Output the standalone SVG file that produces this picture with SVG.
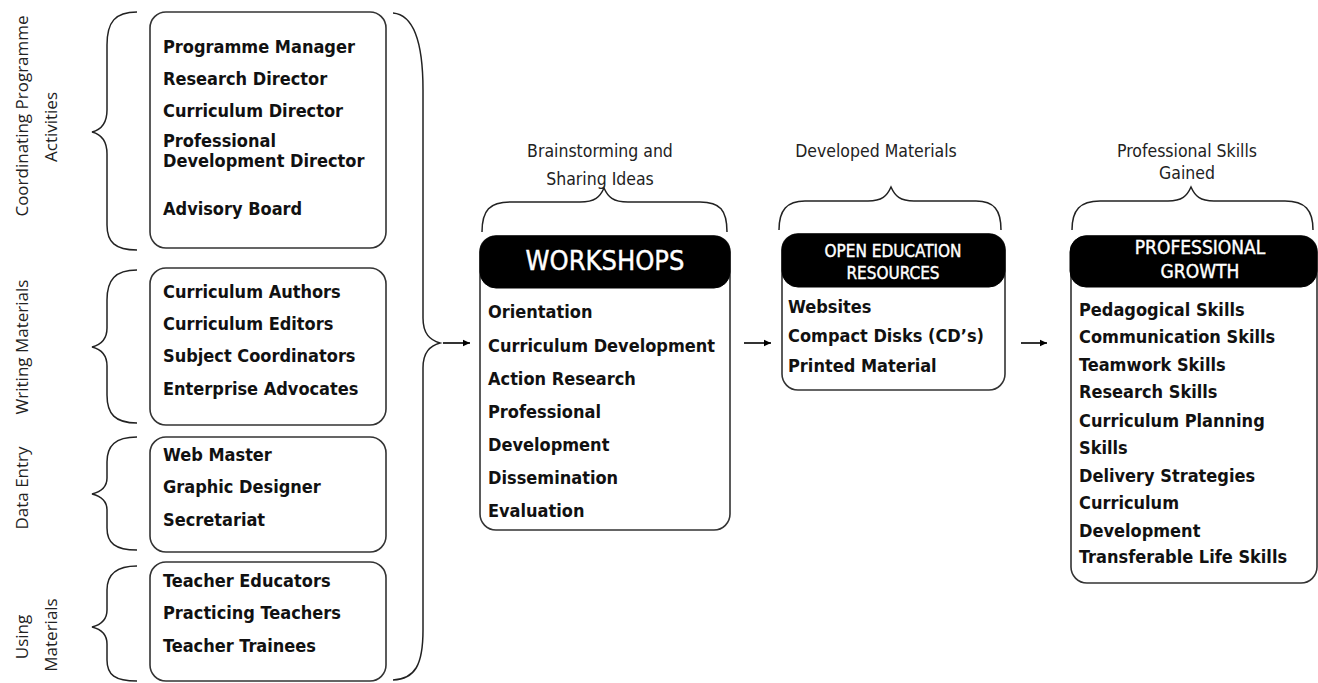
<svg xmlns="http://www.w3.org/2000/svg" width="1318" height="683" viewBox="0 0 1318 683">
<defs>
<style>
.box{fill:#fff;stroke:#333;stroke-width:1.6}
.hdr{fill:#000;stroke:#000;stroke-width:1}
.br{fill:none;stroke:#222;stroke-width:1.5}
.ln{fill:none;stroke:#000;stroke-width:1.6}
.lbl{font-family:"Open Sans","DejaVu Sans",sans-serif;font-size:17px;fill:#222;text-anchor:middle}
.cap{font-family:"DejaVu Sans Condensed","DejaVu Sans",sans-serif;font-size:17.5px;fill:#222;text-anchor:middle}
.it{font-family:"DejaVu Sans Condensed","DejaVu Sans",sans-serif;font-weight:bold;font-size:18px;fill:#111}
.ht{font-family:"DejaVu Sans Condensed","DejaVu Sans",sans-serif;fill:#fff;stroke:#fff;stroke-width:0.4;text-anchor:middle}
</style>
<marker id="ah" markerWidth="8" markerHeight="8" refX="7" refY="4" orient="auto" markerUnits="userSpaceOnUse">
<path d="M0,0.8 L7,4 L0,7.2 Z" fill="#000"/>
</marker>
</defs>
<rect width="1318" height="683" fill="#fff"/>

<g id="labels">
<text class="lbl" transform="translate(28,116) rotate(-90)">Coordinating Programme</text>
<text class="lbl" transform="translate(57,127) rotate(-90)">Activities</text>
<text class="lbl" transform="translate(28,347) rotate(-90)">Writing Materials</text>
<text class="lbl" transform="translate(28,488) rotate(-90)">Data Entry</text>
<text class="lbl" transform="translate(28,637) rotate(-90)">Using</text>
<text class="lbl" transform="translate(57,635) rotate(-90)">Materials</text>
</g>

<g id="connectors">
<path class="br" d="M137,12 C115,12 107,22 107,45 L107,110 C107,124 100,130 92,132 C100,134 107,140 107,154 L107,225 C107,242 115,250 137,250"/>
<path class="br" d="M137,270 C115,270 107,280 107,300 L107,328 C107,340 100,345 92,347 C100,349 107,354 107,366 L107,395 C107,414 115,423 137,423"/>
<path class="br" d="M137,437 C115,437 107,446 107,462 L107,478 C107,488 100,492 92,494 C100,496 107,500 107,510 L107,528 C107,543 115,550 137,550"/>
<path class="br" d="M137,566 C115,566 107,575 107,590 L107,610 C107,620 100,625 92,627 C100,629 107,634 107,644 L107,660 C107,675 115,681 137,681"/>
<path class="br" d="M393,13 C415,15 423,45 423,90 L423,318 C423,334 430,340 440,343 C430,346 423,352 423,368 L423,630 C423,665 415,679 393,680"/>
<path class="br" d="M482,232 C482,210 490,202 510,202 L580,202 C595,202 600,197 604,188 C608,197 613,202 628,202 L700,202 C720,202 727,210 727,232"/>
<path class="br" d="M779,230 C779,210 787,201 805,201 L868,201 C882,201 887,196 891,187 C895,196 900,201 914,201 L976,201 C994,201 1001,210 1001,230"/>
<path class="br" d="M1072,230 C1072,210 1080,201 1100,201 L1168,201 C1182,201 1187,196 1191,187 C1195,196 1200,201 1214,201 L1285,201 C1305,201 1313,210 1313,230"/>
<line class="ln" x1="443" y1="343" x2="470" y2="343" marker-end="url(#ah)"/>
<line class="ln" x1="744" y1="343" x2="771" y2="343" marker-end="url(#ah)"/>
<line class="ln" x1="1021" y1="343" x2="1047" y2="343" marker-end="url(#ah)"/>
</g>

<g id="captions">
<text class="cap" x="600" y="157">Brainstorming and</text>
<text class="cap" x="600" y="185">Sharing Ideas</text>
<text class="cap" x="876" y="157">Developed Materials</text>
<text class="cap" x="1187" y="157">Professional Skills</text>
<text class="cap" x="1187" y="179">Gained</text>
</g>

<g id="coordinating">
<rect class="box" x="150" y="12" width="236" height="236" rx="16"/>
<text class="it" x="163" y="53">Programme Manager</text>
<text class="it" x="163" y="85">Research Director</text>
<text class="it" x="163" y="117">Curriculum Director</text>
<text class="it" x="163" y="147">Professional</text>
<text class="it" x="163" y="167">Development Director</text>
<text class="it" x="163" y="215">Advisory Board</text>
</g>

<g id="writing">
<rect class="box" x="150" y="268" width="236" height="157" rx="16"/>
<text class="it" x="163" y="298">Curriculum Authors</text>
<text class="it" x="163" y="330">Curriculum Editors</text>
<text class="it" x="163" y="362">Subject Coordinators</text>
<text class="it" x="163" y="395">Enterprise Advocates</text>
</g>

<g id="dataentry">
<rect class="box" x="150" y="437" width="236" height="115" rx="16"/>
<text class="it" x="163" y="461">Web Master</text>
<text class="it" x="163" y="493">Graphic Designer</text>
<text class="it" x="163" y="526">Secretariat</text>
</g>

<g id="using">
<rect class="box" x="150" y="562" width="236" height="119" rx="16"/>
<text class="it" x="163" y="587">Teacher Educators</text>
<text class="it" x="163" y="619">Practicing Teachers</text>
<text class="it" x="163" y="652">Teacher Trainees</text>
</g>

<g id="workshops">
<rect class="box" x="480" y="236" width="250" height="294" rx="16"/>
<rect class="hdr" x="480" y="236" width="250" height="52" rx="16"/>
<text class="ht" x="605" y="270" font-size="27">WORKSHOPS</text>
<text class="it" x="488" y="318">Orientation</text>
<text class="it" x="488" y="352">Curriculum Development</text>
<text class="it" x="488" y="385">Action Research</text>
<text class="it" x="488" y="418">Professional</text>
<text class="it" x="488" y="451">Development</text>
<text class="it" x="488" y="484">Dissemination</text>
<text class="it" x="488" y="517">Evaluation</text>
</g>

<g id="oer">
<rect class="box" x="782" y="234" width="223" height="156" rx="16"/>
<rect class="hdr" x="782" y="234" width="223" height="53" rx="16"/>
<text class="ht" x="893" y="257" font-size="17">OPEN EDUCATION</text>
<text class="ht" x="893" y="279" font-size="17">RESOURCES</text>
<text class="it" x="788" y="313" font-size="16.5">Websites</text>
<text class="it" x="788" y="342" font-size="16.5">Compact Disks (CD’s)</text>
<text class="it" x="788" y="372" font-size="16.5">Printed Material</text>
</g>

<g id="growth">
<rect class="box" x="1071" y="236" width="246" height="347" rx="16"/>
<rect class="hdr" x="1070" y="236" width="247" height="51" rx="16"/>
<text class="ht" x="1200" y="254" font-size="19">PROFESSIONAL</text>
<text class="ht" x="1200" y="278" font-size="19">GROWTH</text>
<text class="it" x="1079" y="316">Pedagogical Skills</text>
<text class="it" x="1079" y="343">Communication Skills</text>
<text class="it" x="1079" y="371">Teamwork Skills</text>
<text class="it" x="1079" y="398">Research Skills</text>
<text class="it" x="1079" y="427">Curriculum Planning</text>
<text class="it" x="1079" y="454">Skills</text>
<text class="it" x="1079" y="482">Delivery Strategies</text>
<text class="it" x="1079" y="509">Curriculum</text>
<text class="it" x="1079" y="537">Development</text>
<text class="it" x="1079" y="563">Transferable Life Skills</text>
</g>
</svg>
